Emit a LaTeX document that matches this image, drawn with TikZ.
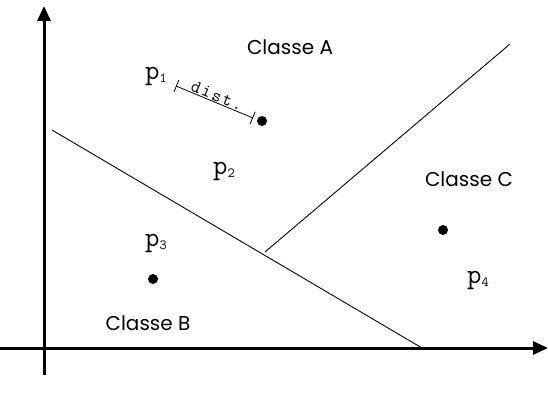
\documentclass[tikz,border=0pt]{standalone}
\usepackage{fontspec}
\setmainfont{Poppins}
\newcommand{\plab}[1]{{\ttfamily\fontsize{28}{28}\selectfont p\raisebox{-3pt}{\fontsize{14}{14}\selectfont #1}}}
\newcommand{\distfont}{\ttfamily\fontsize{18}{18}\selectfont}
\usetikzlibrary{arrows.meta,calc}
\begin{document}
\begin{tikzpicture}[x=1pt,y=-1pt,
  axis/.style={line width=3pt,-{Triangle[width=13pt,length=15pt]}},
  sep/.style={line width=0.9pt},
  dot/.style={circle,fill=black,inner sep=0pt,minimum size=10pt},
  cls/.style={font=\fontsize{20}{20}\selectfont},
  ptlbl/.style={inner sep=1pt},
  distlbl/.style={rotate=-22.6,anchor=south,inner sep=1pt}]
\useasboundingbox (0,0) rectangle (548,398);
% axes
\coordinate (yb) at (44,375);
\coordinate (yt) at (44,6);
\coordinate (xl) at (0,348);
\coordinate (xr) at (548,348);
\draw[axis] (yb) -- (yt);
\draw[axis] (xl) -- (xr);
% separators
\coordinate (s1a) at (52,130);
\coordinate (s1b) at (422,348);
\coordinate (s2a) at (265,252);
\coordinate (s2b) at (510,44);
\draw[sep] (s1a) -- (s1b);
\draw[sep] (s2a) -- (s2b);
% points
\node[dot] (d1) at (262,121) {};
\node[dot] (d3) at (153,279) {};
\node[dot] (d4) at (443,230) {};
% labels
\node[cls] (ca) at (290,47) {Classe A};
\node[cls] (cb) at (148,323) {Classe B};
\node[cls] (cc) at (469,179) {Classe C};
\node[ptlbl] (p1) at (156,76) {\plab{1}};
\node[ptlbl] (p2) at (224,171) {\plab{2}};
\node[ptlbl] (p3) at (156,243) {\plab{3}};
\node[ptlbl] (p4) at (478,280) {\plab{4}};
% distance
\coordinate (da) at (176,86);
\coordinate (db) at (253,118);
\draw[line width=0.8pt,{Bar[width=13pt]}-{Bar[width=13pt]}] (da) -- (db);
\node[distlbl] (dl) at ($(da)!0.5!(db)$) {\distfont d\kern2pt i\kern2pt s\kern2pt t\kern2pt .};
\end{tikzpicture}
\end{document}
